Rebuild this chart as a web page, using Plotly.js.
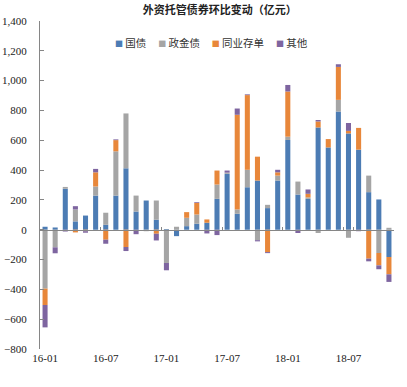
<!DOCTYPE html>
<html>
<head>
<meta charset="utf-8">
<script src="https://cdn.plot.ly/plotly-3.0.1.min.js"></script>
<style>html,body{margin:0;padding:0;background:#fff;}#chart{width:407px;height:387px;}</style>
</head>
<body>
<div id="chart"></div>
<script>
const months = ['16-01','16-02','16-03','16-04','16-05','16-06','16-07','16-08','16-09','16-10','16-11','16-12',
                '17-01','17-02','17-03','17-04','17-05','17-06','17-07','17-08','17-09','17-10','17-11','17-12',
                '18-01','18-02','18-03','18-04','18-05','18-06','18-07','18-08','18-09','18-10','18-11'];
const tickLabels = ['16-01','16-07','17-01','17-07','18-01','18-07'];
const seriesNames = ['国债','政金债','同业存单','其他'];
const govBonds   = [20,15,275,56,95,229,33,229,412,122,196,67, 5,-43,24,40,47,207,375,107,285,330,145,330, 602,236,207,686,552,793,646,537,252,203,-183];
const policyBank = [-395,-118,12,80,0,61,81,297,368,107,-10,129, -223,20,56,62,0,96,8,29,117,-70,22,33, 22,87,10,-22,0,78,-54,0,111,-156,13];
const ncds       = [-110,0,0,-18,-10,95,-67,75,-116,0,0,-27, 0,0,38,78,22,94,0,635,501,160,-150,22, 303,0,24,40,56,221,17,146,-194,-83,-116];
const others     = [-150,-40,-12,22,-10,23,-27,5,-27,-30,0,-45, -49,0,0,5,-25,-36,14,42,5,-8,-7,17, 44,-22,29,10,0,18,53,-10,-18,-26,-51];

const colors = ['#4C7CB4','#A5A5A5','#E8873A','#7E65A0'];
const seriesVals = [govBonds, policyBank, ncds, others];

const traces = seriesVals.map((v,i)=>({
  type:'bar', name:seriesNames[i], x:months, y:v,
  marker:{color:colors[i]}, showlegend:false, hoverinfo:'x+y+name'
}));

const legendText = seriesNames.map((n,i)=>
  `<span style="color:${colors[i]};font-size:8px">■</span>\u00A0${n}`).join('\u00A0\u00A0\u00A0\u00A0\u00A0');

const axisGrey = '#868686';
const serif = 'Liberation Serif';
const layout = {
  width:407, height:387,
  margin:{l:40, r:13, t:21, b:38},
  paper_bgcolor:'#fff', plot_bgcolor:'#fff',
  barmode:'relative', bargap:0.5,
  font:{family:serif, size:11, color:'#222'},
  title:{text:'<b>外资托管债券环比变动（亿元）</b>', x:0.54, xref:'container', xanchor:'center',
         y:0.974, yref:'container', yanchor:'middle',
         font:{family:'Noto Sans CJK SC', size:11, color:'#222'}},
  xaxis:{type:'category', range:[-0.5, months.length-0.5], tickvals:tickLabels, ticktext:tickLabels,
         showline:false, ticks:'', showgrid:false, zeroline:false, ticklabelstandoff:1,
         tickfont:{family:serif, size:11, color:'#222'}},
  xaxis2:{type:'category', overlaying:'x', matches:'x', anchor:'free', position:800/2200,
          showline:true, linecolor:axisGrey, linewidth:1, ticks:'inside', ticklen:3, tickcolor:axisGrey,
          tickson:'boundaries', tickvals:tickLabels, showticklabels:false, showgrid:false, zeroline:false},
  yaxis:{range:[-800,1400], dtick:200, tickformat:',d', showline:true, linecolor:axisGrey, linewidth:1,
         ticks:'inside', ticklen:4, tickcolor:axisGrey, showgrid:false, zeroline:false, ticklabelstandoff:10,
         tickfont:{family:serif, size:11, color:'#222'}},
  annotations:[{text:legendText, xref:'paper', yref:'paper', x:0.485, y:0.933, xanchor:'center', yanchor:'middle',
                showarrow:false, font:{family:'Noto Sans CJK SC', size:10.5, color:'#333'}}]
};

const dummy = {type:'scatter', x:months, y:months.map(()=>null), xaxis:'x2', yaxis:'y', showlegend:false, hoverinfo:'skip'};

Plotly.newPlot('chart', traces.concat([dummy]), layout, {displayModeBar:false, staticPlot:true});
</script>
</body>
</html>
